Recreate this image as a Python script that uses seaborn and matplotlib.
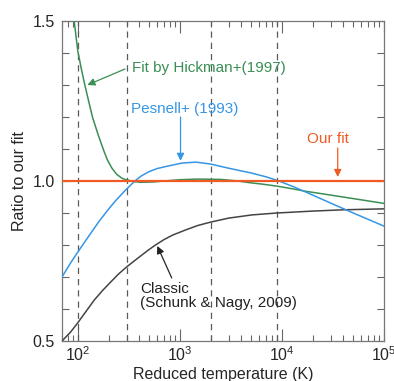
import numpy as np
import pandas as pd
import matplotlib
matplotlib.use("Agg")
import matplotlib.pyplot as plt
from matplotlib.ticker import LogLocator, FixedLocator, FuncFormatter, NullFormatter
import seaborn as sns

# ---------------- data ----------------
hick_T = [85, 91.4, 100, 108, 116, 128, 140, 160, 180, 195, 215, 240, 270, 290,
          317, 350, 420, 550, 700, 1000, 1500, 2500, 3500, 4750, 6500, 8900,
          12000, 17000, 30000, 50000, 100000]
hick_y = [1.62, 1.509, 1.406, 1.352, 1.306, 1.248, 1.197, 1.140, 1.094, 1.066,
          1.041, 1.021, 1.009, 1.005, 1.002, 0.998, 0.996, 0.997, 1.000, 1.004,
          1.006, 1.005, 1.001, 0.995, 0.990, 0.984, 0.977, 0.968, 0.956, 0.945,
          0.930]

pes_T = [70, 85, 100, 125, 160, 200, 234, 290, 362, 420, 497, 600, 724, 1046,
         1435, 2000, 3000, 5000, 7000, 9350, 13000, 17000, 30000, 50000, 100000]
pes_y = [0.700, 0.744, 0.778, 0.823, 0.872, 0.912, 0.938, 0.970, 1.000, 1.016,
         1.029, 1.039, 1.045, 1.056, 1.059, 1.053, 1.040, 1.025, 1.013, 1.000,
         0.982, 0.966, 0.931, 0.900, 0.859]

cls_T = [70, 85, 100, 120, 145, 175, 211, 250, 297, 350, 414, 490, 577, 700,
         850, 1137, 1500, 1970, 3000, 5080, 8900, 11700, 20000, 40000, 100000]
cls_y = [0.500, 0.528, 0.557, 0.592, 0.628, 0.658, 0.685, 0.709, 0.730, 0.748,
         0.766, 0.784, 0.800, 0.817, 0.831, 0.847, 0.861, 0.871, 0.884, 0.894,
         0.900, 0.902, 0.906, 0.910, 0.913]

our_T = [70, 100000]
our_y = [1.0, 1.0]

dashed_T = [100, 300, 2000, 9000]

colors = {"Hickman": "#3a8f55", "Pesnell": "#3596e6",
          "Classic": "#444444", "Our fit": "#f05a24"}

frames = []
for name, T, y in [("Hickman", hick_T, hick_y), ("Pesnell", pes_T, pes_y),
                   ("Classic", cls_T, cls_y), ("Our fit", our_T, our_y)]:
    frames.append(pd.DataFrame({"T": T, "ratio": y, "series": name}))
df = pd.concat(frames, ignore_index=True)

# ---------------- figure ----------------
sns.set_style("ticks")
plt.rcParams["font.family"] = ["Liberation Sans", "DejaVu Sans"]
plt.rcParams["mathtext.default"] = "regular"

fig = plt.figure(figsize=(3.94, 3.81), dpi=100)
ax = fig.add_axes([62 / 394, 40 / 381, 322 / 394, 320 / 381])

for v in dashed_T:
    ax.axvline(v, color="#5a5a5a", lw=0.9, ls=(0, (5, 4)), zorder=1)

for name in ["Classic", "Hickman", "Pesnell", "Our fit"]:
    sub = df[df.series == name]
    sns.lineplot(data=sub, x="T", y="ratio", ax=ax, color=colors[name],
                 lw=1.6 if name == "Our fit" else 1.1,
                 estimator=None, sort=False, legend=False, zorder=3)

ax.set_xscale("log")
ax.set_xlim(70, 1e5)
ax.set_ylim(0.5, 1.5)

ax.xaxis.set_major_locator(LogLocator(base=10, numticks=10))
ax.xaxis.set_minor_locator(LogLocator(base=10, subs=np.arange(2, 10), numticks=20))
ax.xaxis.set_minor_formatter(NullFormatter())
ax.yaxis.set_major_locator(FixedLocator(np.round(np.arange(0.5, 1.51, 0.1), 2)))
ax.yaxis.set_major_formatter(FuncFormatter(
    lambda v, p: f"{v:.1f}" if abs(v * 2 - round(v * 2)) < 1e-6 else ""))

ax.tick_params(axis="x", which="major", direction="in", length=8.5, width=0.8,
               top=True, bottom=True, labelsize=11.5, pad=3, color="#666666")
ax.tick_params(axis="x", which="minor", direction="in", length=4.6, width=0.8,
               top=True, bottom=True, color="#666666")
ax.tick_params(axis="y", which="major", direction="in", length=5, width=0.8,
               left=True, right=True, labelsize=11.5, pad=5, color="#666666")
for s in ax.spines.values():
    s.set_color("#777777")
    s.set_linewidth(0.9)

ax.set_xlabel("Reduced temperature (K)", fontsize=11.5)
ax.xaxis.set_label_coords(0.5, -0.08)
ax.set_ylabel("Ratio to our fit", fontsize=11.5, labelpad=4)

# ---------------- annotations ----------------
def arrow(xy, xytext, color, ms=11):
    ax.annotate("", xy=xy, xytext=xytext, xycoords="data", textcoords="data",
                arrowprops=dict(arrowstyle="-|>", color=color, lw=0.9,
                                shrinkA=0, shrinkB=0, mutation_scale=ms),
                zorder=4)

ax.text(0.2165, 0.854, "Fit by Hickman+(1997)", transform=ax.transAxes,
        color="#3a8f55", fontsize=11, ha="left", va="center")
arrow((124, 1.30), (290, 1.35), "#3a8f55")

ax.text(0.2143, 0.724, "Pesnell+ (1993)", transform=ax.transAxes,
        color="#3596e6", fontsize=11, ha="left", va="center")
arrow((1015, 1.063), (1015, 1.2), "#3596e6")

ax.text(0.8245, 0.630, "Our fit", transform=ax.transAxes,
        color="#f05a24", fontsize=11, ha="center", va="center")
arrow((35200, 1.0125), (35200, 1.103), "#f05a24")

ax.text(0.2422, 0.141, "Classic\n(Schunk & Nagy, 2009)", transform=ax.transAxes,
        color="#222222", fontsize=11, ha="left", va="center", linespacing=1.0)
arrow((601, 0.797), (832, 0.697), "#222222")

fig.savefig("out.png", dpi=100)
